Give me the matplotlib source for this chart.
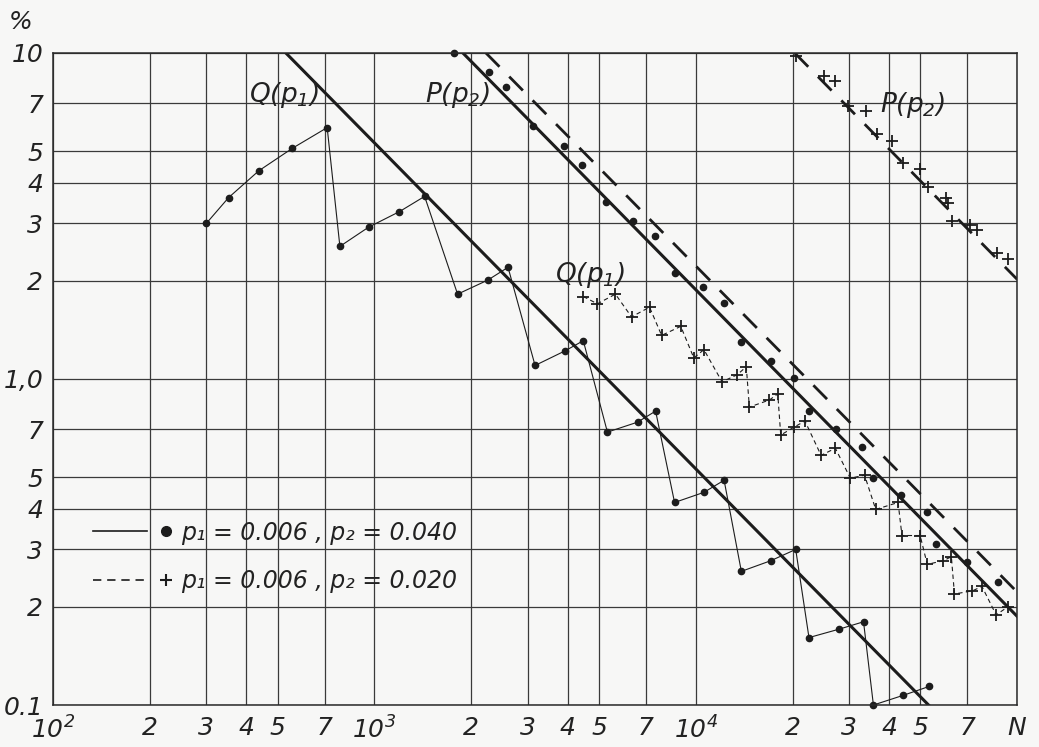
import matplotlib
matplotlib.use('Agg')
import matplotlib.pyplot as plt
from matplotlib.ticker import FixedLocator, FixedFormatter, NullLocator
from matplotlib.lines import Line2D
from matplotlib.legend_handler import HandlerBase

# --- data (N, percent) ---
# thin solid line with dots: Q(p1) data, p1=0.006, p2=0.040
n_q40 = [300, 352, 437, 556, 713, 781, 959, 1197, 1433, 1815, 2254, 2605,
         3162, 3923, 4467, 5309, 6588, 7499, 8590, 10600, 12250, 13860,
         17100, 20460, 22500, 28000, 33260, 35700, 44100, 53200]
q40 = [3.0, 3.6, 4.35, 5.1, 5.9, 2.55, 2.92, 3.26, 3.63, 1.82, 2.01, 2.2,
       1.10, 1.22, 1.31, 0.687, 0.737, 0.797, 0.418, 0.449, 0.489, 0.257,
       0.277, 0.300, 0.161, 0.171, 0.180, 0.100, 0.107, 0.114]

# dots along P(p2), p2=0.040
n_p40 = [1766, 2270, 2566, 3119, 3899, 4437, 5270, 6357, 7450, 8590, 10500,
         12250, 13860, 17100, 20190, 22500, 27350, 33000, 35700, 43450,
         52500, 55980, 70000, 87100]
p40 = [10.0, 8.76, 7.86, 5.98, 5.19, 4.54, 3.50, 3.06, 2.74, 2.11, 1.92,
       1.71, 1.30, 1.135, 1.01, 0.797, 0.70, 0.618, 0.496, 0.44, 0.39,
       0.311, 0.274, 0.239]

# crosses, thin dashed: Q(p1) data, p1=0.006, p2=0.020
n_q20 = [4467, 4940, 5623, 6310, 7180, 7830, 8980, 9860, 10600, 12070,
         13450, 14360, 14680, 16950, 17990, 18380, 20190, 21860, 24540,
         27180, 30270, 33500, 36300, 42600, 43800, 49900, 52500, 58900,
         62400, 63800, 72600, 77700, 86000, 93500]
q20 = [1.79, 1.70, 1.82, 1.55, 1.66, 1.36, 1.45, 1.16, 1.23, 0.98, 1.03,
       1.09, 0.82, 0.862, 0.90, 0.673, 0.711, 0.743, 0.583, 0.613, 0.496,
       0.507, 0.398, 0.418, 0.331, 0.331, 0.27, 0.277, 0.285, 0.219, 0.224,
       0.231, 0.189, 0.2]

# crosses along P(p2), p2=0.020
n_p20 = [20460, 25070, 27180, 29850, 33780, 36560, 40800, 44100, 49900,
         52800, 60200, 61100, 62900, 71100, 74800, 86600, 93500]
p20 = [9.79, 8.5, 8.22, 6.88, 6.64, 5.62, 5.38, 4.6, 4.39, 3.89, 3.6, 3.46,
       3.06, 2.96, 2.86, 2.43, 2.33]

# theoretical straight lines (end points)
n_Q_th = [530, 53000]
Q_th = [10, 0.1]
n_P40_th = [1884, 100000]
P40_th = [10, 0.187]
n_P40d_th = [2222, 100000]
P40d_th = [10, 0.222]
n_P20_th = [20300, 100000]
P20_th = [10, 2.02]

x_ticks = [1e2, 2e2, 3e2, 4e2, 5e2, 7e2, 1e3, 2e3, 3e3, 4e3, 5e3, 7e3,
           1e4, 2e4, 3e4, 4e4, 5e4, 7e4, 1e5]
x_labels = [r'$10^2$', '2', '3', '4', '5', '7', r'$10^3$', '2', '3', '4', '5', '7',
            r'$10^4$', '2', '3', '4', '5', '7', 'N']
y_ticks = [0.1, 0.2, 0.3, 0.4, 0.5, 0.7, 1, 2, 3, 4, 5, 7, 10]
y_labels = ['0.1', '2', '3', '4', '5', '7', '1,0', '2', '3', '4', '5', '7', '10']
legend_labels = ['p₁ = 0.006 , p₂ = 0.040', 'p₁ = 0.006 , p₂ = 0.020']

ink = '#1c1c1c'
plt.rcParams['font.family'] = ['DejaVu Sans']
plt.rcParams['font.style'] = 'italic'
plt.rcParams['mathtext.fontset'] = 'custom'
plt.rcParams['mathtext.rm'] = 'DejaVu Sans:italic'
plt.rcParams['mathtext.it'] = 'DejaVu Sans:italic'
plt.rcParams['text.color'] = '#222222'

fig = plt.figure(figsize=(10.39, 7.47), dpi=100, facecolor='#f7f7f6')
ax = fig.add_axes([0.051, 0.0562, 0.928, 0.873])
ax.set_facecolor('#f7f7f6')
ax.set_xscale('log')
ax.set_yscale('log')
ax.set_xlim(1e2, 1e5)
ax.set_ylim(0.1, 10)

ax.xaxis.set_major_locator(FixedLocator(x_ticks))
ax.xaxis.set_major_formatter(FixedFormatter(x_labels))
ax.xaxis.set_minor_locator(NullLocator())
ax.yaxis.set_major_locator(FixedLocator(y_ticks))
ax.yaxis.set_major_formatter(FixedFormatter(y_labels))
ax.yaxis.set_minor_locator(NullLocator())
ax.grid(True, color='#3a3a3a', lw=0.9)
ax.tick_params(length=0, labelsize=18, colors='#222222')
ax.tick_params(axis='x', pad=8)
ax.tick_params(axis='y', pad=7)
for s in ax.spines.values():
    s.set_color('#2a2a2a')
    s.set_linewidth(1.1)

# theory lines
ax.plot(n_Q_th, Q_th, '-', color=ink, lw=2.2)
ax.plot(n_P40_th, P40_th, '-', color=ink, lw=2.2)
ax.plot(n_P40d_th, P40d_th, '--', color=ink, lw=2.0, dashes=(7, 5))
ax.plot(n_P20_th, P20_th, '--', color=ink, lw=2.0, dashes=(7, 5))

# measured points
ax.plot(n_q40, q40, '-o', color=ink, lw=0.8, ms=4.5, clip_on=False)
ax.plot(n_p40, p40, 'o', color=ink, ms=4.5, clip_on=False)
ax.plot(n_q20, q20, '--+', color=ink, lw=0.8, ms=8, mew=1.3, dashes=(4, 3))
ax.plot(n_p20, p20, '+', color=ink, ms=8, mew=1.3)

# curve names
ax.text(522, 7.45, '$Q(p_1)$', fontsize=19, ha='center', va='center')
ax.text(1815, 7.45, '$P(p_2)$', fontsize=19, ha='center', va='center')
ax.text(47100, 6.9, '$P(p_2)$', fontsize=19, ha='center', va='center')
ax.text(4700, 2.09, '$Q(p_1)$', fontsize=19, ha='center', va='center')
ax.text(-0.034, 1.048, '%', transform=ax.transAxes, fontsize=18,
        ha='center', va='center')


class LineThenMark(HandlerBase):
    def create_artists(self, legend, orig_handle, xdescent, ydescent,
                       width, height, fontsize, trans):
        line, mark = orig_handle
        y = height / 2 - ydescent
        seg = Line2D([-xdescent, -xdescent + 0.68 * width], [y, y])
        seg.update_from(line)
        seg.set_marker('')
        seg.set_transform(trans)
        dot = Line2D([-xdescent + 0.92 * width], [y])
        dot.update_from(mark)
        dot.set_linestyle('none')
        dot.set_transform(trans)
        return [seg, dot]


h1 = (Line2D([], [], color=ink, lw=1.2),
      Line2D([], [], ls='none', marker='o', color=ink, ms=7))
h2 = (Line2D([], [], color=ink, lw=1.2, ls='--', dashes=(5, 3.5)),
      Line2D([], [], ls='none', marker='+', color=ink, ms=8, mew=1.5))
ax.legend([h1, h2], legend_labels,
          handler_map={tuple: LineThenMark()},
          loc='center left', bbox_to_anchor=(0.0415, 0.227),
          frameon=False, fontsize=17, handlelength=3.35, handletextpad=0.4,
          borderpad=0, borderaxespad=0, labelspacing=1.05)

fig.savefig('out.png', dpi=100, facecolor=fig.get_facecolor())
